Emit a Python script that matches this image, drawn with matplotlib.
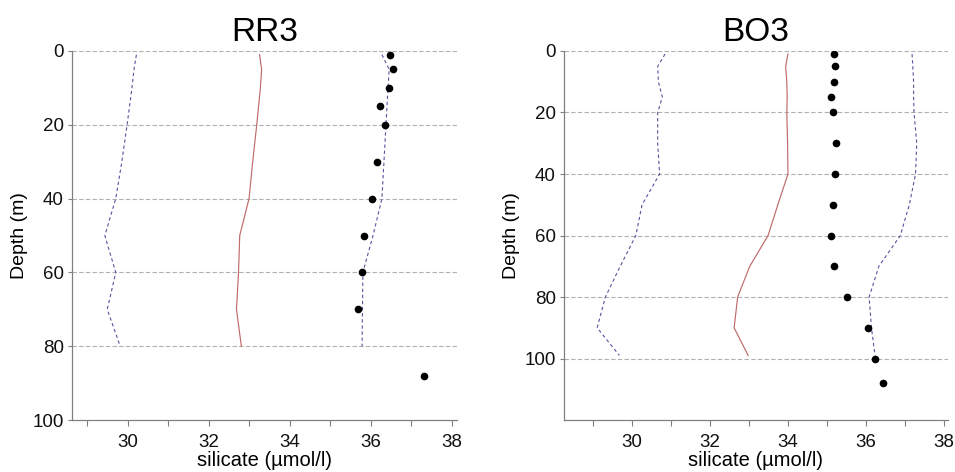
import matplotlib.pyplot as plt

plt.rcParams['font.family'] = ['Liberation Sans', 'DejaVu Sans']

# RR3 station
rr3_obs_depth = [1, 5, 10, 15, 20, 30, 40, 50, 60, 70, 88]
rr3_obs = [36.46, 36.54, 36.44, 36.23, 36.34, 36.14, 36.02, 35.83, 35.79, 35.67, 37.32]
rr3_line_depth = [1, 5, 10, 20, 30, 40, 50, 60, 70, 80]
rr3_low = [30.21, 30.15, 30.10, 29.98, 29.85, 29.70, 29.43, 29.70, 29.49, 29.81]
rr3_mean = [33.25, 33.30, 33.27, 33.18, 33.08, 32.99, 32.76, 32.73, 32.68, 32.80]
rr3_high = [36.27, 36.45, 36.42, 36.37, 36.32, 36.27, 36.05, 35.80, 35.79, 35.78]

# BO3 station
bo3_obs_depth = [1, 5, 10, 15, 20, 30, 40, 50, 60, 70, 80, 90, 100, 108]
bo3_obs = [35.19, 35.21, 35.19, 35.11, 35.16, 35.23, 35.21, 35.16, 35.11, 35.19, 35.51, 36.04, 36.24, 36.43]
bo3_line_depth = [1, 5, 10, 15, 20, 30, 40, 50, 60, 70, 80, 90, 99]
bo3_low = [30.85, 30.66, 30.68, 30.78, 30.66, 30.66, 30.71, 30.26, 30.10, 29.70, 29.32, 29.11, 29.68]
bo3_mean = [34.00, 33.94, 33.97, 33.98, 33.97, 33.99, 34.00, 33.74, 33.49, 33.02, 32.71, 32.62, 32.98]
bo3_high = [37.18, 37.20, 37.22, 37.22, 37.23, 37.30, 37.27, 37.11, 36.88, 36.33, 36.08, 36.14, 36.23]

x_ticks = [30, 32, 34, 36, 38]
minor_ticks = [29, 31, 33, 35, 37]

panels = [
    ("RR3", rr3_obs_depth, rr3_obs, rr3_line_depth, rr3_low, rr3_mean, rr3_high,
     (28.62, 38.12), 100, [0, 20, 40, 60, 80, 100], [0, 20, 40, 60, 80]),
    ("BO3", bo3_obs_depth, bo3_obs, bo3_line_depth, bo3_low, bo3_mean, bo3_high,
     (28.26, 38.1), 120, [0, 20, 40, 60, 80, 100], [0, 20, 40, 60, 80, 100]),
]
rects = [[0.0754, 0.110, 0.403, 0.782], [0.5906, 0.110, 0.402, 0.782]]

fig = plt.figure(figsize=(9.55, 4.72), dpi=100)
for rect, (title, od, ov, ld, lo, me, hi, xlim, ymax, yt, grid_y) in zip(rects, panels):
    ax = fig.add_axes(rect)
    for g in grid_y:
        ax.axhline(g, color='#b0b0b0', lw=0.8, ls=(0, (4, 2)), zorder=0)
    ax.plot(lo, ld, color='#5555a0', lw=0.8, ls=(0, (3, 2.5)))
    ax.plot(hi, ld, color='#5555a0', lw=0.8, ls=(0, (3, 2.5)))
    ax.plot(me, ld, color='#c06a6a', lw=0.85)
    ax.plot(ov, od, 'o', color='black', ms=4.5, ls='none')
    ax.set_xlim(*xlim)
    ax.set_ylim(ymax, 0)
    ax.set_xticks(x_ticks)
    ax.set_xticks(minor_ticks, minor=True)
    ax.set_yticks(yt)
    ax.spines['top'].set_visible(False)
    ax.spines['right'].set_visible(False)
    for s in ('left', 'bottom'):
        ax.spines[s].set_color('#808080')
        ax.spines[s].set_linewidth(0.9)
    ax.tick_params(axis='both', which='both', colors='#808080', labelcolor='#111111',
                   labelsize=13.5, width=0.8)
    ax.tick_params(axis='x', which='major', length=4, pad=6)
    ax.tick_params(axis='x', which='minor', length=4)
    ax.tick_params(axis='y', length=3, pad=3)
    ax.set_xlabel("silicate (µmol/l)", fontsize=14.5, labelpad=0)
    ax.set_ylabel("Depth (m)", fontsize=14, labelpad=3)
    ax.set_title(title, fontsize=24, pad=7)

fig.savefig("out.png", dpi=100)
